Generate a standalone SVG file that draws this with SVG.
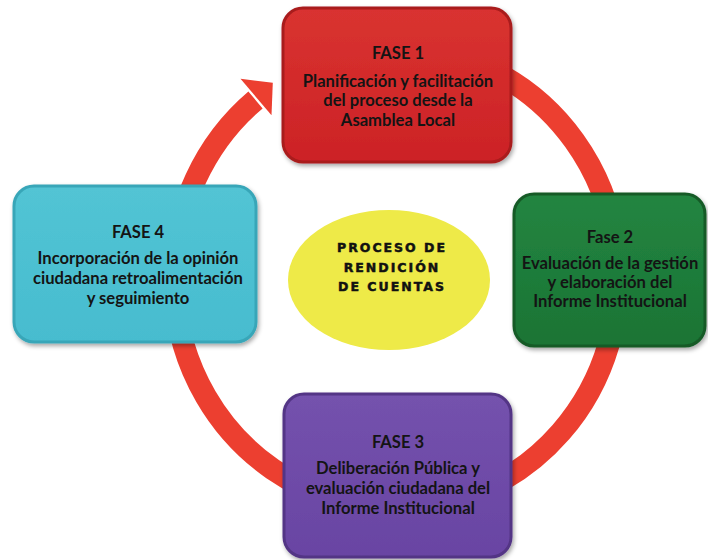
<svg xmlns="http://www.w3.org/2000/svg" width="708" height="560" viewBox="0 0 708 560">
<style>
.box{stroke-width:3}
.t{font-family:"Lato","Liberation Sans",sans-serif;font-weight:700;font-size:16.6px;fill:#141414;text-anchor:middle}
.c{font-family:"DejaVu Sans","Liberation Sans",sans-serif;font-weight:700;font-size:12.5px;fill:#111;stroke:#111;stroke-width:0.5;text-anchor:middle;letter-spacing:2px}
</style>
<defs>
<filter id="sh" x="-10%" y="-10%" width="125%" height="125%">
<feDropShadow dx="1.5" dy="2.5" stdDeviation="2" flood-color="#000" flood-opacity="0.35"/>
</filter>
<linearGradient id="gR" x1="0" y1="0" x2="0" y2="1"><stop offset="0" stop-color="#d93330"/><stop offset="1" stop-color="#cc2226"/></linearGradient>
<linearGradient id="gG" x1="0" y1="0" x2="0" y2="1"><stop offset="0" stop-color="#238541"/><stop offset="1" stop-color="#1a7434"/></linearGradient>
<linearGradient id="gP" x1="0" y1="0" x2="0" y2="1"><stop offset="0" stop-color="#7452ad"/><stop offset="1" stop-color="#6944a3"/></linearGradient>
<linearGradient id="gC" x1="0" y1="0" x2="0" y2="1"><stop offset="0" stop-color="#52c4d4"/><stop offset="1" stop-color="#47bccf"/></linearGradient>
</defs>
<rect width="708" height="560" fill="#ffffff"/>
<g id="connectors">
<path d="M396,48 A222,230 0 1 1 255.5,100" fill="none" stroke="#ec3f30" stroke-width="22"/>
<polygon points="240.5,78.7 272.8,82.8 271.5,115.3" fill="#ec3f30"/>
</g>
<g id="center">
<ellipse cx="389" cy="280" rx="101" ry="70" fill="#eeea48"/>
<text class="c" x="392" y="252">PROCESO DE</text>
<text class="c" x="392" y="272">RENDICIÓN</text>
<text class="c" x="392" y="291">DE CUENTAS</text>
</g>
<g id="fase1">
<rect class="box" x="283" y="8" width="228" height="154" rx="20" fill="url(#gR)" stroke="#a91c1e" filter="url(#sh)"/>
<text class="t" x="398" y="59">FASE 1</text>
<text class="t" x="398" y="87">Planificación  y facilitación</text>
<text class="t" x="398" y="106">del proceso desde la</text>
<text class="t" x="398" y="126">Asamblea Local</text>
</g>
<g id="fase2">
<rect class="box" x="514" y="194" width="191" height="152" rx="20" fill="url(#gG)" stroke="#135a27" filter="url(#sh)"/>
<text class="t" x="610" y="243">Fase 2</text>
<text class="t" x="610" y="269">Evaluación  de la gestión</text>
<text class="t" x="610" y="288">y elaboración  del</text>
<text class="t" x="610" y="307">Informe Institucional</text>
</g>
<g id="fase3">
<rect class="box" x="284" y="394" width="227" height="163" rx="20" fill="url(#gP)" stroke="#533485" filter="url(#sh)"/>
<text class="t" x="398" y="448">FASE 3</text>
<text class="t" x="398" y="474">Deliberación Pública y</text>
<text class="t" x="398" y="494">evaluación ciudadana  del</text>
<text class="t" x="398" y="514">Informe Institucional</text>
</g>
<g id="fase4">
<rect class="box" x="14" y="186" width="242" height="156" rx="20" fill="url(#gC)" stroke="#38a6b8" filter="url(#sh)"/>
<text class="t" x="138" y="238">FASE 4</text>
<text class="t" x="138" y="264">Incorporación  de la opinión</text>
<text class="t" x="138" y="284">ciudadana  retroalimentación</text>
<text class="t" x="138" y="304">y seguimiento</text>
</g>
</svg>
